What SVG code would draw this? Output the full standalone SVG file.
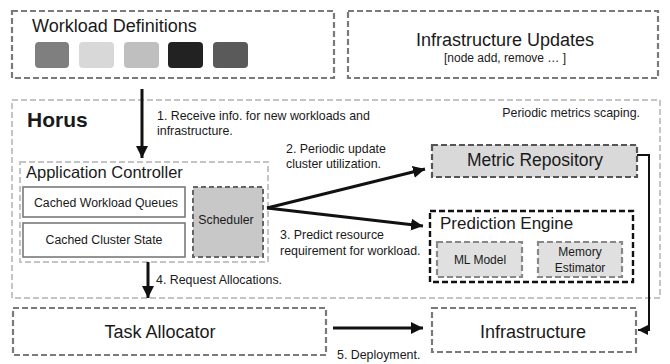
<svg xmlns="http://www.w3.org/2000/svg" width="670" height="364" viewBox="0 0 670 364">
<defs>
<marker id="ah" viewBox="0 0 10 10" refX="10" refY="5" markerWidth="4" markerHeight="4" markerUnits="strokeWidth" orient="auto">
<path d="M0,0 L10,5 L0,10 z" fill="#111"/>
</marker>
<marker id="ahs" viewBox="0 0 10 10" refX="10" refY="5" markerWidth="5" markerHeight="5" markerUnits="strokeWidth" orient="auto">
<path d="M0,0 L10,5 L0,10 z" fill="#111"/>
</marker>
</defs>
<style>
text{font-family:"Liberation Sans",Arial,sans-serif;fill:#1a1a1a}
.dmed{fill:#fff;stroke:#7a7a7a;stroke-width:2.2;stroke-dasharray:6 3}
.dlight{fill:#fff;stroke:#c4c4c4;stroke-width:2;stroke-dasharray:6 3}
.dgray{fill:#d9d9d9;stroke:#555;stroke-width:2.2;stroke-dasharray:6 3}
.dblack{fill:#fff;stroke:#111;stroke-width:2.4;stroke-dasharray:6 3}
.dsub{fill:#e0e0e0;stroke:#888;stroke-width:2.2;stroke-dasharray:6 3}
.solid{fill:#fff;stroke:#7a7a7a;stroke-width:1.6}
.sq{stroke:none}
.lbl{font-size:12.4px}
.conn{fill:none;stroke:#111;stroke-width:3}
.thin{fill:none;stroke:#111;stroke-width:2}
</style>

<g id="workload-definitions">
<rect class="dmed" x="12" y="11" width="322" height="67"/>
<text x="32" y="32" font-size="18">Workload Definitions</text>
<rect class="sq" x="35" y="42" width="34" height="26" rx="4" fill="#7f7f7f"/>
<rect class="sq" x="79" y="42" width="35" height="26" rx="4" fill="#d8d8d8"/>
<rect class="sq" x="124" y="42" width="35" height="26" rx="4" fill="#bfbfbf"/>
<rect class="sq" x="168" y="42" width="35" height="26" rx="4" fill="#222"/>
<rect class="sq" x="213" y="42" width="35" height="26" rx="4" fill="#5a5a5a"/>
</g>

<g id="infrastructure-updates">
<rect class="dmed" x="348" y="11" width="310" height="67"/>
<text x="505" y="46" font-size="18" text-anchor="middle">Infrastructure Updates</text>
<text x="505" y="62" font-size="12" text-anchor="middle">[node add, remove … ]</text>
</g>

<g id="horus">
<rect class="dlight" x="12" y="100" width="648" height="198"/>
<text x="27" y="127" font-size="21" font-weight="bold">Horus</text>
<text x="640" y="117" class="lbl" text-anchor="end">Periodic metrics scaping.</text>
</g>

<g id="application-controller">
<rect class="dlight" x="20" y="162" width="248" height="100"/>
<text x="26" y="178" font-size="16.5">Application Controller</text>
</g>

<g id="cached-workload-queues">
<rect class="solid" x="23" y="187" width="162" height="30"/>
<text x="106" y="207" font-size="12.3" text-anchor="middle">Cached Workload Queues</text>
</g>

<g id="cached-cluster-state">
<rect class="solid" x="23" y="223" width="162" height="34"/>
<text x="104" y="244" font-size="12.3" text-anchor="middle">Cached Cluster State</text>
</g>

<g id="scheduler">
<rect x="193" y="187" width="70" height="70" fill="#c8c8c8" stroke="#666" stroke-width="2" stroke-dasharray="5 3"/>
<text x="226" y="224" font-size="12.3" text-anchor="middle">Scheduler</text>
</g>

<g id="metric-repository">
<rect class="dgray" x="432" y="145" width="205" height="32"/>
<text x="535" y="166" font-size="17.5" text-anchor="middle">Metric Repository</text>
</g>

<g id="prediction-engine">
<rect class="dblack" x="430" y="211" width="203" height="71"/>
<text x="440" y="229" font-size="17">Prediction Engine</text>
</g>

<g id="ml-model">
<rect class="dsub" x="437" y="242" width="85" height="35"/>
<text x="480" y="264" font-size="12" text-anchor="middle">ML Model</text>
</g>

<g id="memory-estimator">
<rect class="dsub" x="538" y="242" width="84" height="35"/>
<text x="580" y="256" font-size="12" text-anchor="middle">Memory</text>
<text x="580" y="272" font-size="12" text-anchor="middle">Estimator</text>
</g>

<g id="task-allocator">
<rect class="dmed" x="13" y="308" width="313" height="47"/>
<text x="160" y="338" font-size="18" text-anchor="middle">Task Allocator</text>
</g>

<g id="infrastructure">
<rect class="dmed" x="432" y="308" width="204" height="44" stroke="#999"/>
<text x="533" y="338" font-size="18" text-anchor="middle">Infrastructure</text>
</g>

<g id="connectors">
<line class="conn" x1="142" y1="89" x2="142" y2="158" marker-end="url(#ah)"/>
<text class="lbl" x="157" y="120">1. Receive info. for new workloads and</text>
<text class="lbl" x="157" y="135">infrastructure.</text>

<line class="conn" x1="267" y1="208" x2="425" y2="169" marker-end="url(#ah)"/>
<line class="conn" x1="267" y1="208" x2="423" y2="226" marker-end="url(#ah)"/>
<text class="lbl" x="286" y="153">2. Periodic update</text>
<text class="lbl" x="286" y="168">cluster utilization.</text>
<text class="lbl" x="280" y="239">3. Predict resource</text>
<text class="lbl" x="280" y="255">requirement for workload.</text>

<line class="conn" x1="148" y1="262" x2="148" y2="298" marker-end="url(#ah)"/>
<text class="lbl" x="156" y="284">4. Request Allocations.</text>

<line class="conn" x1="333" y1="328" x2="423" y2="328" marker-end="url(#ah)"/>
<text class="lbl" x="337" y="359">5. Deployment.</text>

<polyline class="thin" points="637,155 649,155 649,330 638,330" marker-end="url(#ahs)"/>
</g>
</svg>
